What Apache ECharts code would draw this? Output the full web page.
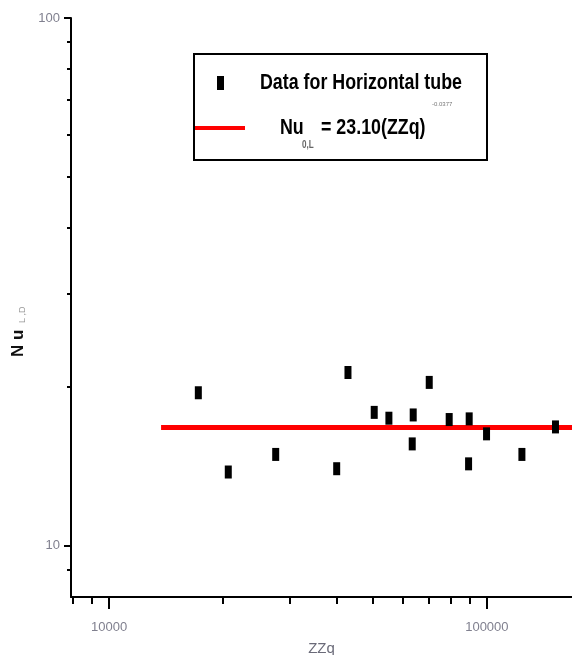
<!DOCTYPE html>
<html>
<head>
<meta charset="utf-8">
<script src="https://cdn.jsdelivr.net/npm/echarts@6/dist/echarts.min.js"></script>
<style>html,body{margin:0;padding:0;background:#fff;overflow:hidden}#c{width:572px;height:655px}</style>
</head>
<body>
<div id="c"></div>
<script>
// ---- data ----
var zzq = [17230, 20680, 27610, 40040, 42890, 50330, 55040, 63830, 63450, 70380, 79480, 89780, 89450, 99800, 123800, 151900];
var nu  = [19.5, 13.8, 14.9, 14.0, 21.3, 17.9, 17.45, 17.7, 15.6, 20.4, 17.35, 17.4, 14.3, 16.3, 14.9, 16.8];
var fitX = [13730, 168000];
var fitY = [16.75, 16.75];
var xMajor = [10000, 100000];
var xMinor = [8000, 9000, 20000, 30000, 40000, 50000, 60000, 70000, 80000, 90000];
var yMajor = [10, 100];
var yMinor = [9, 20, 30, 40, 50, 60, 70, 80, 90];
var xLabels = ['10000', '100000'];
var yLabels = ['10', '100'];

var points = zzq.map(function (v, i) { return [v, nu[i]]; });
var fit = fitX.map(function (v, i) { return [v, fitY[i]]; });

var sans = "'Liberation Sans',Arial,sans-serif";
var labelColor = '#80808f';
var sx = 0.81;

var chart = echarts.init(document.getElementById('c'), null, {renderer: 'canvas'});
chart.setOption({
  animation: false,
  backgroundColor: '#fff',
  grid: {left: 71, top: 18, right: 0, bottom: 58, containLabel: false, outerBoundsMode: 'none'},
  xAxis: [{
    type: 'log', logBase: 10, min: 7930, max: 168000, position: 'bottom',
    axisLine: {show: true, lineStyle: {color: '#000', width: 2}},
    axisTick: {show: true, customValues: xMajor, length: 12, lineStyle: {color: '#000', width: 2}},
    axisLabel: {show: true, customValues: xMajor, margin: 24, color: labelColor, fontSize: 13, fontFamily: sans,
      formatter: function (v) { var i = xMajor.indexOf(Math.round(v)); return i >= 0 ? xLabels[i] : ''; }},
    splitLine: {show: false},
    name: 'ZZq', nameLocation: 'middle', nameGap: 44,
    nameTextStyle: {color: '#6a6a78', fontSize: 15, fontFamily: sans}
  }, {
    type: 'log', logBase: 10, min: 7930, max: 168000, position: 'bottom', gridIndex: 0,
    axisLine: {show: false},
    axisTick: {show: true, customValues: xMinor, length: 7, lineStyle: {color: '#000', width: 2}},
    axisLabel: {show: false},
    splitLine: {show: false}
  }],
  yAxis: [{
    type: 'log', logBase: 10, min: 8, max: 100, position: 'left',
    axisLine: {show: true, lineStyle: {color: '#000', width: 2}},
    axisTick: {show: true, customValues: yMajor, length: 7, lineStyle: {color: '#000', width: 2}},
    axisLabel: {show: true, customValues: yMajor, margin: 11, color: labelColor, fontSize: 13, fontFamily: sans,
      formatter: function (v) { var i = yMajor.indexOf(Math.round(v)); return i >= 0 ? yLabels[i] : ''; }},
    splitLine: {show: false}
  }, {
    type: 'log', logBase: 10, min: 8, max: 100, position: 'left', gridIndex: 0,
    axisLine: {show: false},
    axisTick: {show: true, customValues: yMinor, length: 4, lineStyle: {color: '#000', width: 2}},
    axisLabel: {show: false},
    splitLine: {show: false}
  }],
  series: [{
    name: 'fit', type: 'line', data: fit, xAxisIndex: 0, yAxisIndex: 0,
    showSymbol: false, symbol: 'none', z: 2,
    lineStyle: {color: '#ff0000', width: 5}
  }, {
    name: 'Data for Horizontal tube', type: 'scatter', data: points, xAxisIndex: 0, yAxisIndex: 0,
    symbol: 'rect', symbolSize: [7, 13], z: 3,
    itemStyle: {color: '#000', opacity: 1}
  }],
  graphic: [
    {type: 'rect', shape: {x: 194, y: 54, width: 293, height: 106}, style: {fill: '#fff', stroke: '#000', lineWidth: 2}, z: 10},
    {type: 'rect', shape: {x: 217, y: 76, width: 7, height: 14}, style: {fill: '#000'}, z: 11},
    {type: 'text', x: 260, y: 83, scaleX: sx, style: {text: 'Data for Horizontal tube', fill: '#000', font: 'bold 22px ' + sans, verticalAlign: 'middle', align: 'left'}, z: 11},
    {type: 'line', shape: {x1: 195, y1: 128, x2: 245, y2: 128}, style: {stroke: '#ff0000', lineWidth: 4}, z: 11},
    {type: 'text', x: 280, y: 128, scaleX: sx, style: {text: 'Nu', fill: '#000', font: 'bold 22px ' + sans, verticalAlign: 'middle', align: 'left'}, z: 11},
    {type: 'text', x: 302, y: 145, scaleX: sx, style: {text: '0,L', fill: '#666', font: 'bold 10px ' + sans, verticalAlign: 'middle', align: 'left'}, z: 11},
    {type: 'text', x: 321, y: 128, scaleX: sx, style: {text: '= 23.10(ZZq)', fill: '#000', font: 'bold 22px ' + sans, verticalAlign: 'middle', align: 'left'}, z: 11},
    {type: 'text', x: 432, y: 104, style: {text: '-0.0377', fill: '#777', font: '6px ' + sans, verticalAlign: 'middle', align: 'left'}, z: 11},
    {type: 'group', x: 18, y: 357, rotation: Math.PI / 2, z: 11, children: [
      {type: 'text', x: 0, y: 0, style: {text: 'N u', fill: '#111', font: 'bold 17px ' + sans, verticalAlign: 'middle', align: 'left'}},
      {type: 'text', x: 34, y: 5, style: {text: 'L ,D', fill: '#999', font: '9px ' + sans, verticalAlign: 'middle', align: 'left'}}
    ]}
  ]
});
</script>
</body>
</html>
